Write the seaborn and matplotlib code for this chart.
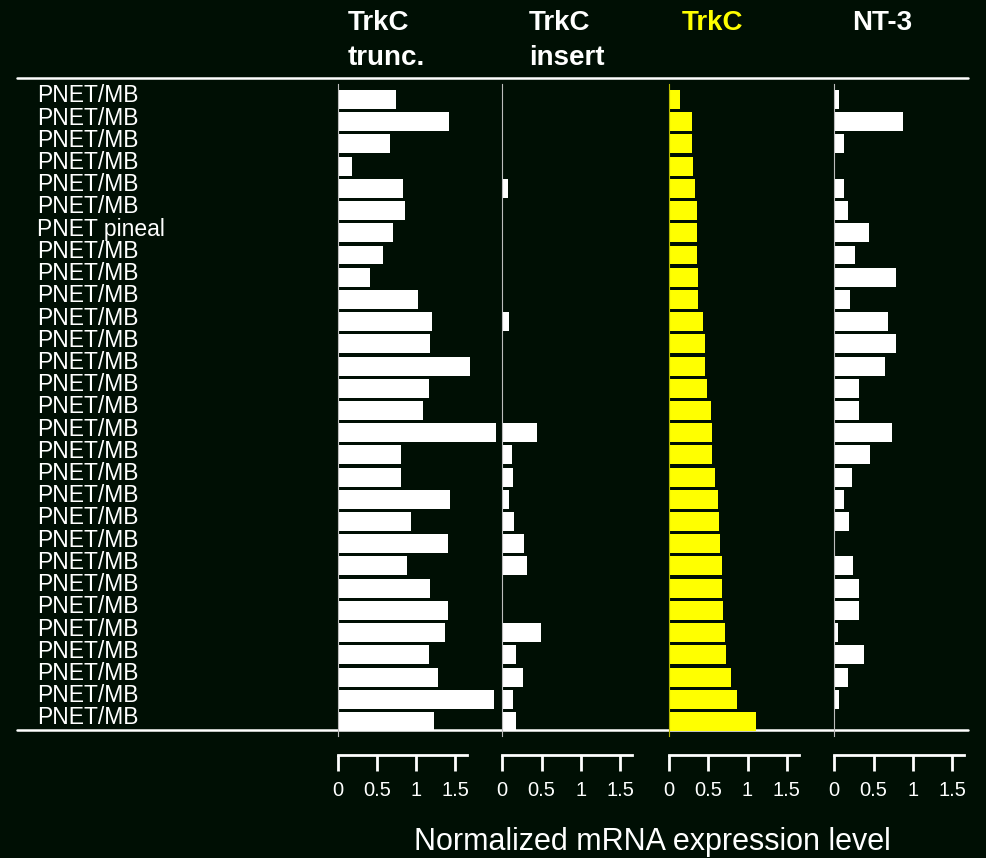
import numpy as np
import pandas as pd
import matplotlib
matplotlib.use("Agg")
import matplotlib.pyplot as plt
import seaborn as sns
from matplotlib.lines import Line2D
from matplotlib import transforms

# ---- data -------------------------------------------------------------
samples = ["PNET/MB"] * 6 + ["PNET pineal"] + ["PNET/MB"] * 22

trkc_trunc = [0.75, 1.42, 0.67, 0.19, 0.84, 0.86, 0.71, 0.58, 0.41, 1.02,
              1.21, 1.18, 1.69, 1.16, 1.09, 2.02, 0.81, 0.81, 1.43, 0.94,
              1.41, 0.88, 1.18, 1.41, 1.37, 1.17, 1.28, 1.99, 1.23]
trkc_insert = [0, 0, 0, 0, 0.07, 0, 0, 0, 0, 0,
               0.08, 0, 0, 0, 0, 0.44, 0.12, 0.13, 0.08, 0.15,
               0.28, 0.32, 0, 0, 0.49, 0.17, 0.27, 0.13, 0.17]
trkc_full = [0.14, 0.29, 0.29, 0.30, 0.33, 0.36, 0.36, 0.36, 0.37, 0.37,
             0.43, 0.46, 0.46, 0.48, 0.54, 0.55, 0.55, 0.59, 0.63, 0.64,
             0.65, 0.67, 0.67, 0.69, 0.71, 0.72, 0.79, 0.87, 1.11]
nt3 = [0.06, 0.88, 0.12, 0, 0.12, 0.17, 0.44, 0.26, 0.79, 0.20,
       0.68, 0.79, 0.65, 0.32, 0.32, 0.73, 0.46, 0.23, 0.12, 0.19,
       0, 0.24, 0.32, 0.32, 0.05, 0.38, 0.17, 0.06, 0]

panel_titles = [["TrkC", "trunc."], ["TrkC", "insert"], ["TrkC"], ["NT-3"]]
xticks = [0, 0.5, 1, 1.5]
xtick_labels = ["0", "0.5", "1", "1.5"]
axis_label = "Normalized mRNA expression level"

# ---- style ------------------------------------------------------------
W, H, DPI = 986, 858, 100
BG = "#000f04"
YELLOW = "#ffff00"

sns.set_theme(style="white")
plt.rcParams["font.family"] = ["Liberation Sans", "DejaVu Sans"]

fig = plt.figure(figsize=(W / DPI, H / DPI), dpi=DPI, facecolor=BG)

px_per_unit = 78.5
zeros = [337.5, 502.3, 669.0, 834.3]
rights = [502.3, 669.0, 834.3, 986.0]
top_px, bot_px = 84, 736
row0_px, row_step = 99.5, 22.214

rows = np.arange(len(samples))
series = [trkc_trunc, trkc_insert, trkc_full, nt3]
bar_colors = ["white", "white", YELLOW, "white"]
spine_colors = ["#bdbdbd", "#bdbdbd", "#b8b800", "#bdbdbd"]
title_colors = ["white", "white", YELLOW, "white"]
title_x = [348, 529, 681.5, 852.3]

axes = []
for k in range(4):
    ax = fig.add_axes([zeros[k] / W, 1 - bot_px / H,
                       (rights[k] - zeros[k]) / W, (bot_px - top_px) / H])
    ax.set_facecolor("none")
    df = pd.DataFrame({"row": rows, "value": series[k]})
    sns.barplot(data=df, x="value", y="row", orient="h", order=list(rows),
                color=bar_colors[k], saturation=1, width=0.855,
                errorbar=None, edgecolor="none", linewidth=0, ax=ax)
    ax.set_xlim(0, (rights[k] - zeros[k]) / px_per_unit)
    ax.set_ylim((bot_px - row0_px) / row_step, (top_px - row0_px) / row_step)
    ax.set_yticks([])
    ax.set_xlabel("")
    ax.set_ylabel("")
    ax.grid(False)
    for side in ("top", "right"):
        ax.spines[side].set_visible(False)
    ax.spines["left"].set_color(spine_colors[k])
    ax.spines["left"].set_linewidth(0.8)
    ax.spines["bottom"].set_position(("outward", 13.9))
    ax.spines["bottom"].set_bounds(0, 1.65)
    ax.spines["bottom"].set_color("white")
    ax.spines["bottom"].set_linewidth(2)
    ax.set_xticks(xticks, xtick_labels)
    ax.tick_params(axis="x", bottom=True, colors="white", direction="out",
                   length=11.5, width=2, pad=7, labelsize=14.5)
    axes.append(ax)

    for j, line in enumerate(panel_titles[k]):
        fig.text(title_x[k] / W, 1 - (30.5 + 34.5 * j) / H, line,
                 color=title_colors[k], fontsize=20, fontweight="bold",
                 ha="left", va="baseline")

# sample names down the left side
trans = transforms.blended_transform_factory(fig.transFigure, axes[0].transData)
for i, name in enumerate(samples):
    axes[0].text(37 / W, i + 0.13, name, transform=trans, ha="left",
                 va="baseline", color="white", fontsize=16.5, clip_on=False)

# horizontal rules framing the table
for y in (78.3, 730.0):
    fig.add_artist(Line2D([16.7 / W, 968 / W], [1 - y / H, 1 - y / H],
                          color="white", linewidth=1.8, zorder=-1))

fig.text(652 / W, 1 - 850 / H, axis_label, ha="center", va="baseline",
         color="white", fontsize=22)

fig.savefig("out.png", dpi=DPI, facecolor=BG)
